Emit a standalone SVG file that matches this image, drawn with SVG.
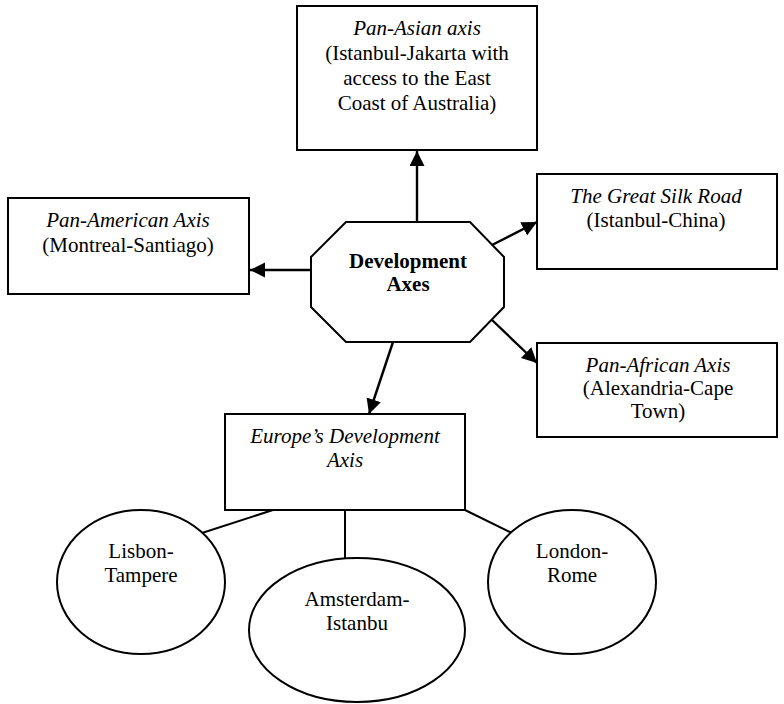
<svg xmlns="http://www.w3.org/2000/svg" width="784" height="704" viewBox="0 0 784 704">
  <style>
    .box { fill: #fff; stroke: #000; stroke-width: 2; }
    .link { fill: none; stroke: #000; stroke-width: 2; }
    .arrow { fill: none; stroke: #000; stroke-width: 2.4; marker-end: url(#head); }
  </style>
  <defs>
    <marker id="head" markerUnits="userSpaceOnUse" markerWidth="16" markerHeight="16" refX="15" refY="7.5" orient="auto">
      <path d="M0,0 L15,7.5 L0,15 Z" fill="#000"/>
    </marker>
  </defs>

  <g id="connectors">
    <line class="arrow" x1="417" y1="222" x2="417" y2="151"/>
    <line class="arrow" x1="311" y1="270" x2="250" y2="270"/>
    <line class="arrow" x1="492" y1="245" x2="537" y2="222"/>
    <line class="arrow" x1="492" y1="320" x2="537" y2="363"/>
    <line class="arrow" x1="393" y1="342" x2="369" y2="414"/>
    <line class="link" x1="273" y1="510" x2="202" y2="533"/>
    <line class="link" x1="345" y1="510" x2="345" y2="558"/>
    <line class="link" x1="465" y1="510" x2="512" y2="533"/>
  </g>

  <g id="hub">
    <polygon class="box" points="346,222 470,222 504,257 504,307 470,342 346,342 311,307 311,257"/>
    <text font-family="Times New Roman, Liberation Serif, serif" font-size="21" text-anchor="middle" font-weight="bold" x="408" y="268">Development</text>
    <text font-family="Times New Roman, Liberation Serif, serif" font-size="21" text-anchor="middle" font-weight="bold" x="408" y="291">Axes</text>
  </g>

  <g id="pan-asian">
    <rect class="box" x="297" y="6" width="240" height="144"/>
    <text font-family="Times New Roman, Liberation Serif, serif" font-size="21" text-anchor="middle" font-style="italic" x="417" y="35">Pan-Asian axis</text>
    <text font-family="Times New Roman, Liberation Serif, serif" font-size="21" text-anchor="middle" x="417" y="60">(Istanbul-Jakarta with</text>
    <text font-family="Times New Roman, Liberation Serif, serif" font-size="21" text-anchor="middle" x="417" y="85">access to the East</text>
    <text font-family="Times New Roman, Liberation Serif, serif" font-size="21" text-anchor="middle" x="417" y="110">Coast of Australia)</text>
  </g>

  <g id="pan-american">
    <rect class="box" x="8" y="198" width="241" height="96"/>
    <text font-family="Times New Roman, Liberation Serif, serif" font-size="21" text-anchor="middle" font-style="italic" x="128" y="227">Pan-American Axis</text>
    <text font-family="Times New Roman, Liberation Serif, serif" font-size="21" text-anchor="middle" x="128" y="252">(Montreal-Santiago)</text>
  </g>

  <g id="silk-road">
    <rect class="box" x="537" y="174" width="240" height="95"/>
    <text font-family="Times New Roman, Liberation Serif, serif" font-size="21" text-anchor="middle" font-style="italic" x="656" y="203">The Great Silk Road</text>
    <text font-family="Times New Roman, Liberation Serif, serif" font-size="21" text-anchor="middle" x="656" y="227">(Istanbul-China)</text>
  </g>

  <g id="pan-african">
    <rect class="box" x="537" y="343" width="240" height="94"/>
    <text font-family="Times New Roman, Liberation Serif, serif" font-size="21" text-anchor="middle" font-style="italic" x="658" y="372">Pan-African Axis</text>
    <text font-family="Times New Roman, Liberation Serif, serif" font-size="21" text-anchor="middle" x="658" y="395">(Alexandria-Cape</text>
    <text font-family="Times New Roman, Liberation Serif, serif" font-size="21" text-anchor="middle" x="658" y="418">Town)</text>
  </g>

  <g id="europe">
    <rect class="box" x="225" y="414" width="240" height="96"/>
    <text font-family="Times New Roman, Liberation Serif, serif" font-size="21" text-anchor="middle" font-style="italic" x="345" y="443">Europe&#8217;s Development</text>
    <text font-family="Times New Roman, Liberation Serif, serif" font-size="21" text-anchor="middle" font-style="italic" x="345" y="467">Axis</text>
  </g>

  <g id="lisbon-tampere">
    <ellipse class="box" cx="141" cy="582" rx="84" ry="72"/>
    <text font-family="Times New Roman, Liberation Serif, serif" font-size="21" text-anchor="middle" x="141" y="558">Lisbon-</text>
    <text font-family="Times New Roman, Liberation Serif, serif" font-size="21" text-anchor="middle" x="141" y="582">Tampere</text>
  </g>

  <g id="amsterdam-istanbul">
    <ellipse class="box" cx="357" cy="630" rx="108" ry="72"/>
    <text font-family="Times New Roman, Liberation Serif, serif" font-size="21" text-anchor="middle" x="357" y="606">Amsterdam-</text>
    <text font-family="Times New Roman, Liberation Serif, serif" font-size="21" text-anchor="middle" x="357" y="630">Istanbu</text>
  </g>

  <g id="london-rome">
    <ellipse class="box" cx="572" cy="582" rx="84" ry="72"/>
    <text font-family="Times New Roman, Liberation Serif, serif" font-size="21" text-anchor="middle" x="572" y="558">London-</text>
    <text font-family="Times New Roman, Liberation Serif, serif" font-size="21" text-anchor="middle" x="572" y="582">Rome</text>
  </g>
</svg>
